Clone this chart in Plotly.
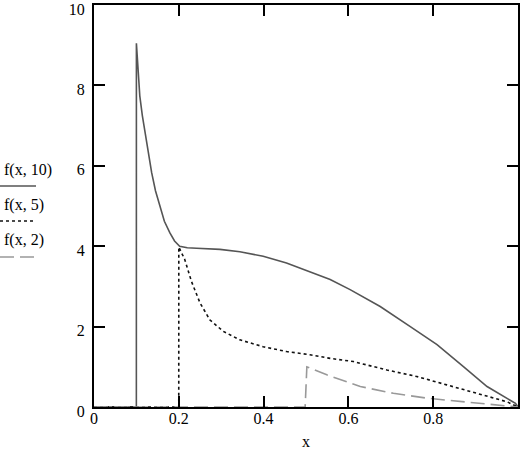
import plotly.graph_objects as go

# f(x, 10)
x10 = [0, 0.0999, 0.1, 0.103, 0.108, 0.114, 0.12, 0.128, 0.136, 0.145, 0.155, 0.166, 0.179,
       0.19, 0.202, 0.22, 0.242, 0.297, 0.344, 0.399,
       0.454, 0.509, 0.557, 0.604, 0.675, 0.746, 0.809, 0.872, 0.927, 0.994, 1.0]
y10 = [0, 0, 9.05, 8.6, 7.74, 7.25, 6.83, 6.3, 5.83, 5.38, 5.0, 4.62, 4.33,
       4.13, 4.0, 3.96, 3.95, 3.92, 3.86, 3.75,
       3.58, 3.37, 3.17, 2.92, 2.5, 2.0, 1.55, 1.0, 0.51, 0.09, 0]

# f(x, 5)
x5 = [0, 0.1999, 0.2, 0.214, 0.23, 0.25, 0.273, 0.305, 0.344, 0.399, 0.454, 0.509, 0.557,
      0.612, 0.691, 0.761, 0.832, 0.903, 0.974, 1.0]
y5 = [0, 0, 3.98, 3.67, 3.12, 2.59, 2.17, 1.88, 1.67, 1.5, 1.38, 1.3, 1.21,
      1.13, 0.92, 0.76, 0.55, 0.34, 0.13, 0]

# f(x, 2)
x2 = [0, 0.498, 0.502, 0.549, 0.628, 0.706, 0.785, 0.864, 0.93, 1.0]
y2 = [0, 0, 1.0, 0.8, 0.51, 0.34, 0.22, 0.13, 0.07, 0]

x_ticks = [0, 0.2, 0.4, 0.6, 0.8]
y_ticks = [0, 2, 4, 6, 8, 10]

serif = "Liberation Serif, Times New Roman, serif"

fig = go.Figure()
fig.add_trace(go.Scatter(x=x10, y=y10, mode="lines", name="f(x, 10)",
                         line=dict(color="#555555", width=1.6), cliponaxis=False))
fig.add_trace(go.Scatter(x=x5, y=y5, mode="lines", name="f(x, 5)",
                         line=dict(color="#111111", width=1.6, dash="3px,3px")))
fig.add_trace(go.Scatter(x=x2, y=y2, mode="lines", name="f(x, 2)",
                         line=dict(color="#999999", width=1.6, dash="14px,6px")))

axis_style = dict(showline=True, linecolor="black", linewidth=2, mirror="allticks",
                  ticks="inside", ticklen=11, tickwidth=2, tickcolor="black",
                  showgrid=False, zeroline=False, automargin=False,
                  tickfont=dict(family=serif, size=16, color="black"))

fig.update_xaxes(range=[0, 1], tickvals=x_ticks, ticktext=["0", "0.2", "0.4", "0.6", "0.8"],
                 title=dict(text="x", font=dict(family=serif, size=16, color="black"), standoff=10),
                 ticklabelstandoff=-4, **axis_style)
# labels sit a few px below their ticks (and this keeps "10" inside the page)
fig.update_yaxes(range=[0, 10], tickvals=y_ticks, ticklabelstandoff=4, ticklabelshift=4,
                 **axis_style)

# legend on the left, text above line sample (Mathcad style)
pw, ph = 424, 402
legend_items = [("f(x, 10)", 170, 186, dict(color="#555555", width=1.6)),
                ("f(x, 5)", 205, 221, dict(color="#111111", width=1.6, dash="3px,3px")),
                ("f(x, 2)", 240, 257, dict(color="#999999", width=1.6, dash="14px,6px"))]
for label, ty, ly, lstyle in legend_items:
    fig.add_annotation(text=label, xref="paper", yref="paper",
                       x=(2 - 94) / pw, y=(407 - ty) / ph, xanchor="left", yanchor="middle",
                       showarrow=False, font=dict(family=serif, size=16, color="black"))
    fig.add_shape(type="line", xref="paper", yref="paper",
                  x0=(0 - 94) / pw, x1=(36 - 94) / pw, y0=(407 - ly) / ph, y1=(407 - ly) / ph,
                  line=lstyle)

fig.update_layout(width=520, height=456, showlegend=False,
                  margin=dict(l=94, r=2, t=5, b=49),
                  plot_bgcolor="white", paper_bgcolor="white")

fig.write_html("out.html", config={"displayModeBar": False},
               post_script="document.body.style.margin='0';")
